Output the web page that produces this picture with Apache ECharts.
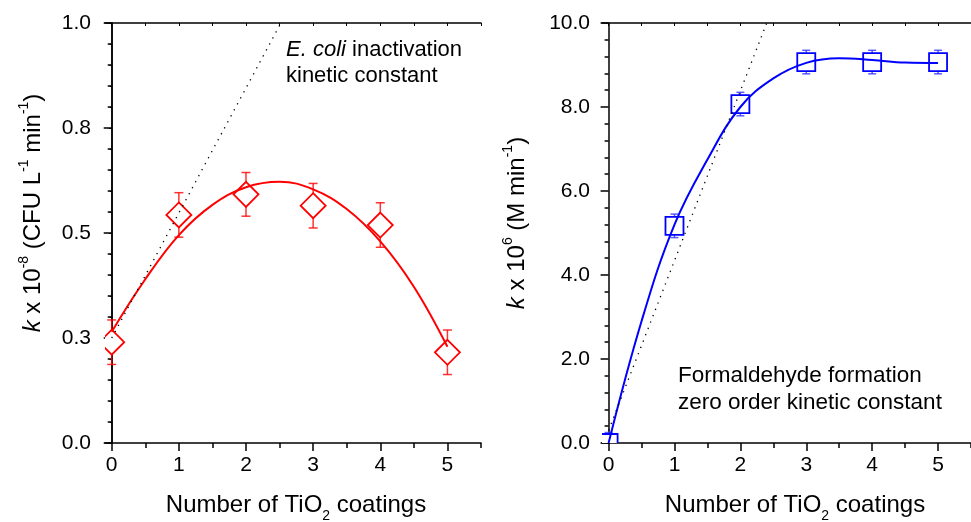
<!DOCTYPE html>
<html>
<head>
<meta charset="utf-8">
<script src="https://cdn.jsdelivr.net/npm/echarts@6/dist/echarts.min.js"></script>
<style>
html,body{margin:0;padding:0;background:#fff;}
#chart{width:971px;height:522px;}
</style>
</head>
<body>
<div id="chart"></div>
<script>
// ---- data ----
const coatings = [0, 1, 2, 3, 4, 5];
const xTicks = [0, 1, 2, 3, 4, 5];
const xMinorTicks = [0.5, 1.5, 2.5, 3.5, 4.5, 5.5];
const xTopTicks = [0, 0.5, 1, 1.5, 2, 2.5, 3, 3.5, 4, 4.5, 5, 5.5];

// Left panel: E. coli inactivation kinetic constant (k x 1e-8)
const ecoliK = [0.240, 0.543, 0.592, 0.565, 0.519, 0.216];
const ecoliErr = [0.053, 0.053, 0.052, 0.053, 0.053, 0.053];
const ecoliFitX = [0, 0.5, 1, 1.5, 2, 2.5, 3, 3.5, 4, 4.5, 5];
const ecoliFitY = [0.265, 0.390, 0.495, 0.567, 0.609, 0.622, 0.604, 0.557, 0.480, 0.372, 0.229];
const ecoliTanX = [0, 2.52];
const ecoliTanY = [0.25, 1.0];

// Right panel: formaldehyde formation zero order kinetic constant (k x 1e6)
const formK = [0.0, 5.17, 8.07, 9.07, 9.07, 9.07];
const formErr = [0.25, 0.28, 0.28, 0.28, 0.28, 0.28];
const formFitX = [0, 0.5, 1, 1.5, 2, 2.5, 3, 3.5, 4, 4.5, 5];
const formFitY = [0.0, 2.90, 5.20, 6.75, 8.00, 8.68, 9.05, 9.16, 9.12, 9.06, 9.05];
const formTanX = [0, 2.4];
const formTanY = [0.3, 10.0];

const FONT = "'Liberation Sans', Arial, sans-serif";
const chart = echarts.init(document.getElementById('chart'));

function zip(xs, ys) { return xs.map((x, i) => [x, ys[i]]); }

function markerRender(shape, half, capHalf, color, errColor) {
  return function (params, api) {
    const x = api.value(0), y = api.value(1), e = api.value(2);
    const c = api.coord([x, y]);
    const t = api.coord([x, y + e]);
    const b = api.coord([x, y - e]);
    const lineStyle = { stroke: errColor, lineWidth: 1.5, fill: null };
    const children = [
      { type: 'line', shape: { x1: c[0], y1: t[1], x2: c[0], y2: b[1] }, style: lineStyle },
      { type: 'line', shape: { x1: c[0] - capHalf, y1: t[1], x2: c[0] + capHalf, y2: t[1] }, style: lineStyle },
      { type: 'line', shape: { x1: c[0] - capHalf, y1: b[1], x2: c[0] + capHalf, y2: b[1] }, style: lineStyle }
    ];
    const mStyle = { fill: '#fff', stroke: color, lineWidth: 1.8 };
    if (shape === 'diamond') {
      children.push({ type: 'polygon', shape: { points: [[c[0], c[1] - half], [c[0] + half, c[1]], [c[0], c[1] + half], [c[0] - half, c[1]]] }, style: mStyle });
    } else {
      children.push({ type: 'rect', shape: { x: c[0] - half, y: c[1] - half, width: 2 * half, height: 2 * half }, style: mStyle });
    }
    return { type: 'group', children: children };
  };
}

const axisLine = { show: true, lineStyle: { color: '#000', width: 1.5 } };
const labelStyle = { color: '#000', fontSize: 21, fontFamily: FONT };

function xAxesFor(grid) {
  return [
    { type: 'value', gridIndex: grid, min: -0.1, max: 5.5, position: 'bottom',
      axisLine: axisLine,
      axisTick: { show: true, customValues: xTicks, length: 8, inside: false, lineStyle: { color: '#000', width: 1.5 } },
      axisLabel: { show: true, customValues: xTicks, margin: 12, ...labelStyle },
      splitLine: { show: false } },
    { type: 'value', gridIndex: grid, min: -0.1, max: 5.5, position: 'bottom',
      axisLine: { show: false },
      axisTick: { show: true, customValues: xMinorTicks, length: 5, inside: false, lineStyle: { color: '#000', width: 1.5 } },
      axisLabel: { show: false }, splitLine: { show: false } },
    { type: 'value', gridIndex: grid, min: -0.1, max: 5.5, position: 'top',
      axisLine: axisLine,
      axisTick: { show: true, customValues: xTopTicks, length: 3, inside: true, lineStyle: { color: '#000', width: 1 } },
      axisLabel: { show: false }, splitLine: { show: false } }
  ];
}

function yAxesFor(grid, max, interval, mirror, margin) {
  const axes = [
    { type: 'value', gridIndex: grid, min: 0, max: max, interval: interval, position: 'left',
      axisLine: axisLine,
      axisTick: { show: true, length: 8, inside: false, lineStyle: { color: '#000', width: 1.5 } },
      minorTick: { show: true, splitNumber: 5, length: 4, lineStyle: { color: '#000', width: 1.5 } },
      axisLabel: { show: true, margin: margin, formatter: v => v.toFixed(1), ...labelStyle },
      splitLine: { show: false }, minorSplitLine: { show: false } }
  ];
  if (mirror) {
    axes.push({ type: 'value', gridIndex: grid, min: 0, max: max, interval: interval, position: 'right',
      axisLine: axisLine,
      axisTick: { show: true, length: 3, inside: true, lineStyle: { color: '#000', width: 1 } },
      minorTick: { show: true, splitNumber: 5, length: 2, lineStyle: { color: '#000', width: 1 } },
      axisLabel: { show: false }, splitLine: { show: false }, minorSplitLine: { show: false } });
  }
  return axes;
}

function richSet(fs, sfs) {
  return {
    n: { fontSize: fs, fontFamily: FONT, color: '#000', lineHeight: fs + 4, verticalAlign: 'bottom' },
    i: { fontSize: fs, fontFamily: FONT, color: '#000', fontStyle: 'italic', lineHeight: fs + 4, verticalAlign: 'bottom' },
    sup: { fontSize: sfs, fontFamily: FONT, color: '#000', lineHeight: fs + 4, verticalAlign: 'top' },
    sub: { fontSize: sfs, fontFamily: FONT, color: '#000', lineHeight: sfs + 4, verticalAlign: 'bottom', padding: [0, 0, -6, 0] }
  };
}
const titleRich = richSet(24, 14);
const noteRich = richSet(22, 13);

function txt(x, y, text, opts, rich, fs) {
  return Object.assign({ type: 'text', x: x, y: y, silent: true,
    style: Object.assign({ text: text, fontFamily: FONT, fontSize: fs, fill: '#000', rich: rich, align: 'left', verticalAlign: 'middle' }, opts || {}) });
}

const option = {
  animation: false,
  backgroundColor: '#fff',
  grid: [
    { left: 105, top: 23, width: 376, height: 420, containLabel: false },
    { left: 602, top: 23, width: 378, height: 420, containLabel: false }
  ],
  xAxis: xAxesFor(0).concat(xAxesFor(1)),
  yAxis: yAxesFor(0, 1, 0.25, true, 14).concat(yAxesFor(1, 10, 2, false, 12)),
  series: [
    { type: 'custom', xAxisIndex: 0, yAxisIndex: 0, clip: true, z: 2,
      renderItem: markerRender('diamond', 12.5, 4.5, '#ff0000', 'rgba(255,0,0,0.8)'),
      encode: { x: 0, y: 1 },
      data: coatings.map((x, i) => [x, ecoliK[i], ecoliErr[i]]) },
    { type: 'line', xAxisIndex: 0, yAxisIndex: 0, z: 3, smooth: 0.4, showSymbol: false, symbol: 'none',
      lineStyle: { color: '#ff0000', width: 2 }, data: zip(ecoliFitX, ecoliFitY) },
    { type: 'line', xAxisIndex: 0, yAxisIndex: 0, z: 4, showSymbol: false, symbol: 'none',
      lineStyle: { color: '#000', width: 1.3, type: [1.3, 5.5] }, data: zip(ecoliTanX, ecoliTanY) },

    { type: 'custom', xAxisIndex: 3, yAxisIndex: 2, clip: true, z: 2,
      renderItem: markerRender('square', 9, 4, '#0000ff', 'rgba(40,40,255,0.75)'),
      encode: { x: 0, y: 1 },
      data: coatings.map((x, i) => [x, formK[i], formErr[i]]) },
    { type: 'line', xAxisIndex: 3, yAxisIndex: 2, z: 3, smooth: 0.4, showSymbol: false, symbol: 'none',
      lineStyle: { color: '#0000ff', width: 2 }, data: zip(formFitX, formFitY) },
    { type: 'line', xAxisIndex: 3, yAxisIndex: 2, z: 4, showSymbol: false, symbol: 'none',
      lineStyle: { color: '#000', width: 1.3, type: [1.3, 5.5] }, data: zip(formTanX, formTanY) }
  ],
  graphic: [
    txt(31, 213, '{i|k}{n| x 10}{sup|-8}{n| (CFU L}{sup|-1}{n| min}{sup|-1}{n|)}', { align: 'center' }, titleRich, 24),
    txt(515, 223, '{i|k}{n| x 10}{sup|6}{n| (M min}{sup|-1}{n|)}', { align: 'center' }, titleRich, 24),
    txt(296, 503, '{n|Number of TiO}{sub|2}{n| coatings}', { align: 'center' }, titleRich, 24),
    txt(795, 503, '{n|Number of TiO}{sub|2}{n| coatings}', { align: 'center' }, titleRich, 24),
    txt(286, 48, '{i|E. coli}{n| inactivation}', null, noteRich, 22),
    txt(286, 76, 'kinetic constant', null, noteRich, 22),
    txt(678, 376, 'Formaldehyde formation', { fontSize: 22.5 }, noteRich, 22.5),
    txt(678, 403, 'zero order kinetic constant', { fontSize: 22.5 }, noteRich, 22.5)
  ]
};
option.graphic[0].rotation = Math.PI / 2;
option.graphic[1].rotation = Math.PI / 2;

chart.setOption(option);
</script>
</body>
</html>
